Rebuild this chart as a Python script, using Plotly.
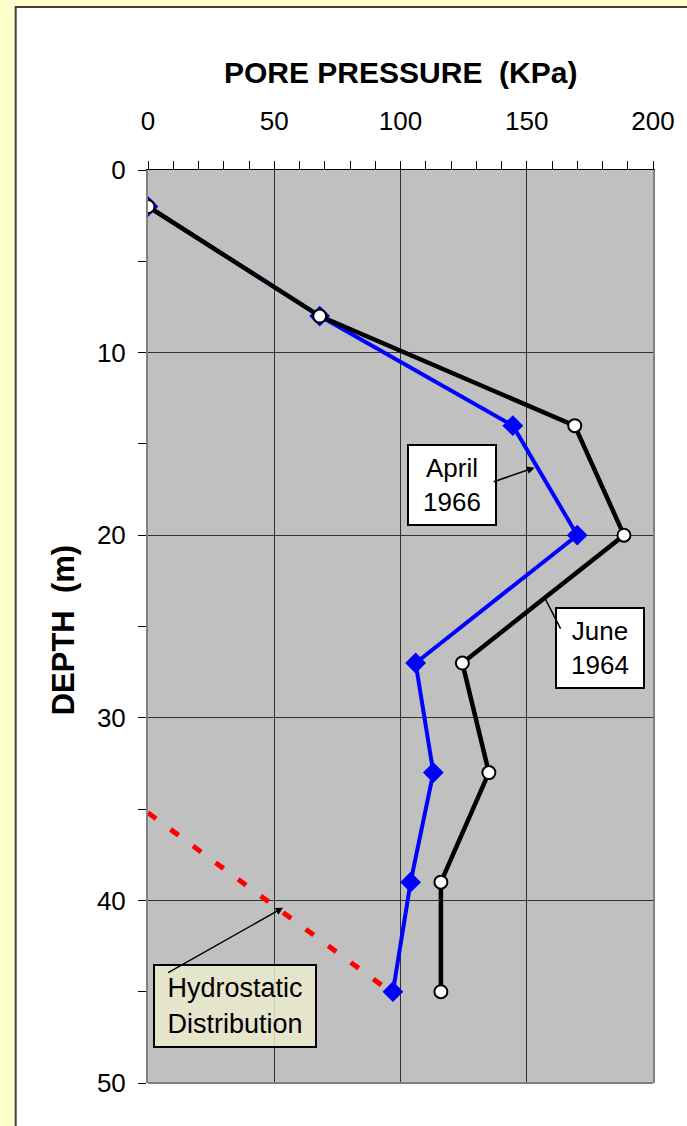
"""Pore pressure vs depth profile (June 1964 / April 1966) with Plotly."""

import plotly.graph_objects as go

FONT = "Arial, Liberation Sans, sans-serif"

# June 1964 readings
june_pressure = [0, 68, 169, 188.5, 124.5, 135, 116, 116]
june_depth = [2, 8, 14, 20, 27, 33, 39, 45]

# April 1966 readings
april_pressure = [0, 68, 144.5, 170, 106, 113, 104, 97]
april_depth = [2, 8, 14, 20, 27, 33, 39, 45]

# hydrostatic line
hydro_pressure = [0, 96]
hydro_depth = [35.2, 45]

x_ticks = [0, 50, 100, 150, 200]
y_ticks = [0, 10, 20, 30, 40, 50]

fig = go.Figure()

fig.add_trace(go.Scatter(
    x=hydro_pressure, y=hydro_depth, mode="lines",
    line={"color": "#FF0000", "width": 5, "dash": "10px,18px"},
    hoverinfo="skip", showlegend=False,
))
fig.add_trace(go.Scatter(
    x=april_pressure, y=april_depth, mode="lines+markers", name="April 1966",
    line={"color": "#0000FF", "width": 4},
    marker={"symbol": "diamond", "size": 16, "color": "#0000FF"},
    showlegend=False,
))
fig.add_trace(go.Scatter(
    x=june_pressure, y=june_depth, mode="lines+markers", name="June 1964",
    line={"color": "#000000", "width": 4.5},
    marker={"symbol": "circle", "size": 13, "color": "white",
            "line": {"color": "black", "width": 2}},
    showlegend=False,
))

# white chart box and grey plot area
fig.add_shape(type="rect", xref="paper", yref="paper", x0=-0.262, x1=1.3, y0=-0.2, y1=1.1785,
              fillcolor="white", line={"color": "#404040", "width": 2}, layer="below")
fig.add_shape(type="rect", xref="x", yref="y", x0=0, x1=200, y0=0, y1=50,
              fillcolor="#C0C0C0", line={"width": 0}, layer="below")
fig.add_shape(type="line", xref="paper", yref="paper", x0=0, x1=1, y0=0, y1=0,
              line={"color": "#808080", "width": 2})

annotations = [
    # axis titles
    dict(text="<b>PORE PRESSURE \u00a0(KPa)</b>", xref="paper", yref="paper", x=0.5, y=1.1073,
         xanchor="center", yanchor="middle", showarrow=False,
         font={"size": 30, "family": FONT, "color": "black"}),
    dict(text="<b>DEPTH \u00a0(m)</b>", xref="paper", yref="paper", x=-0.168, y=0.496,
         xanchor="center", yanchor="middle", textangle=-90, showarrow=False,
         font={"size": 31, "family": FONT, "color": "black"}),
    # labels
    dict(text="April<br>1966", x=120.3, y=17.25, showarrow=False, bgcolor="white",
         bordercolor="black", borderwidth=2, borderpad=4, width=78, height=70,
         font={"size": 26, "family": FONT, "color": "black"}),
    dict(text="June<br>1964", x=178.9, y=26.2, showarrow=False, bgcolor="white",
         bordercolor="black", borderwidth=2, borderpad=4, width=78, height=70,
         font={"size": 26, "family": FONT, "color": "black"}),
    dict(text="Hydrostatic<br>Distribution", x=34.6, y=45.8, showarrow=False,
         bgcolor="rgba(235,235,205,0.85)", bordercolor="black", borderwidth=2, borderpad=4,
         width=152, height=72, font={"size": 27, "family": FONT, "color": "black"}),
    # arrows
    dict(text="", x=153.1, y=16.3, ax=136.3, ay=17.1, axref="x", ayref="y",
         showarrow=True, arrowhead=2, arrowsize=1, arrowwidth=1.5, arrowcolor="black"),
    dict(text="", x=157, y=23.4, ax=163.7, ay=25.2, axref="x", ayref="y",
         showarrow=True, arrowhead=0, arrowwidth=1.5, arrowcolor="black"),
    dict(text="", x=53.5, y=40.4, ax=7.4, ay=44.0, axref="x", ayref="y",
         showarrow=True, arrowhead=2, arrowsize=1, arrowwidth=1.5, arrowcolor="black"),
]

fig.update_layout(
    width=687, height=1126, autosize=False,
    margin={"l": 148, "r": 27, "t": 170, "b": 43},
    paper_bgcolor="#FFFFCC", plot_bgcolor="rgba(0,0,0,0)",
    annotations=annotations, showlegend=False,
    font={"family": FONT, "color": "black"},
)
fig.update_xaxes(
    side="top", range=[0, 200], tickvals=x_ticks, ticks="outside", ticklen=8,
    tickcolor="black", tickfont={"size": 26}, ticklabelstandoff=21,
    showline=True, linecolor="black", linewidth=1,
    showgrid=True, gridcolor="#303030", gridwidth=1, zeroline=False,
    minor={"dtick": 10, "ticks": "outside", "ticklen": 8, "tickcolor": "black", "showgrid": False},
)
fig.update_yaxes(
    range=[50, 0], tickvals=y_ticks, ticks="outside", ticklen=8,
    tickcolor="black", tickfont={"size": 26}, ticklabelstandoff=7,
    showline=True, linecolor="#808080", linewidth=2, mirror=True,
    showgrid=True, gridcolor="#303030", gridwidth=1, zeroline=False,
    minor={"dtick": 5, "ticks": "outside", "ticklen": 8, "tickcolor": "black", "showgrid": False},
)

fig.write_html("out.html", config={"displayModeBar": False},
               post_script="document.body.style.margin='0';")
